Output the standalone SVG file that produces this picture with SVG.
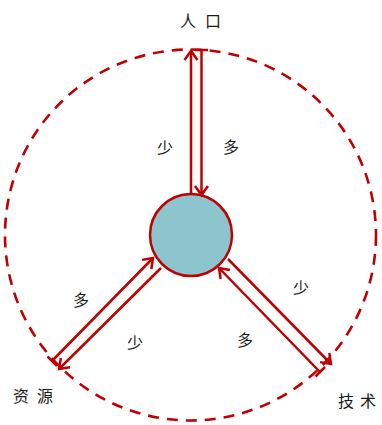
<svg xmlns="http://www.w3.org/2000/svg" width="382" height="425" viewBox="0 0 382 425">
<defs>
<style>
.ln{fill:none;stroke:#c00000;stroke-width:2.5}
.lbl{font-family:"Noto Sans CJK SC","Noto Sans CJK JP",sans-serif;font-size:16px;fill:#1a1a1a}
</style>
<marker id="ah" markerWidth="20" markerHeight="20" refX="10" refY="10" orient="auto" markerUnits="userSpaceOnUse" viewBox="0 0 20 20">
<path d="M1,3.5 L10,10 L1,16.5" fill="none" stroke="#c00000" stroke-width="2.5"/>
</marker>
</defs>
<rect width="382" height="425" fill="#ffffff"/>
<g id="boundary">
<circle cx="190.5" cy="235" r="185.5" fill="none" stroke="#c00000" stroke-width="2.6" stroke-dasharray="11 8"/>
</g>
<g id="center">
<circle cx="191" cy="235" r="41" fill="#8cc5cd" stroke="#c00000" stroke-width="2.5"/>
</g>
<g id="connectors">
<line class="ln" x1="191" y1="195" x2="191" y2="51" marker-end="url(#ah)"/>
<line class="ln" x1="201.5" y1="50" x2="201.5" y2="195" marker-end="url(#ah)"/>
<line class="ln" x1="195" y1="50" x2="208" y2="50"/>
<line class="ln" x1="161" y1="268" x2="59" y2="369" marker-end="url(#ah)"/>
<line class="ln" x1="52" y1="361" x2="153" y2="258" marker-end="url(#ah)"/>
<line class="ln" x1="47.5" y1="356.5" x2="57" y2="366"/>
<line class="ln" x1="228" y1="259" x2="331" y2="364" marker-end="url(#ah)"/>
<line class="ln" x1="320" y1="372" x2="219" y2="268" marker-end="url(#ah)"/>
<line class="ln" x1="315.5" y1="376.5" x2="325" y2="367"/>
</g>
<g id="node-population"><text class="lbl" x="180" y="27" letter-spacing="9">人口</text></g>
<g id="node-resources"><text class="lbl" x="13" y="402" letter-spacing="8">资源</text></g>
<g id="node-technology"><text class="lbl" x="338" y="407" letter-spacing="6">技术</text></g>
<g id="labels">
<text class="lbl" x="157" y="154">少</text>
<text class="lbl" x="223" y="153">多</text>
<text class="lbl" x="73" y="306">多</text>
<text class="lbl" x="127" y="349">少</text>
<text class="lbl" x="293" y="294">少</text>
<text class="lbl" x="237" y="346">多</text>
</g>
</svg>
